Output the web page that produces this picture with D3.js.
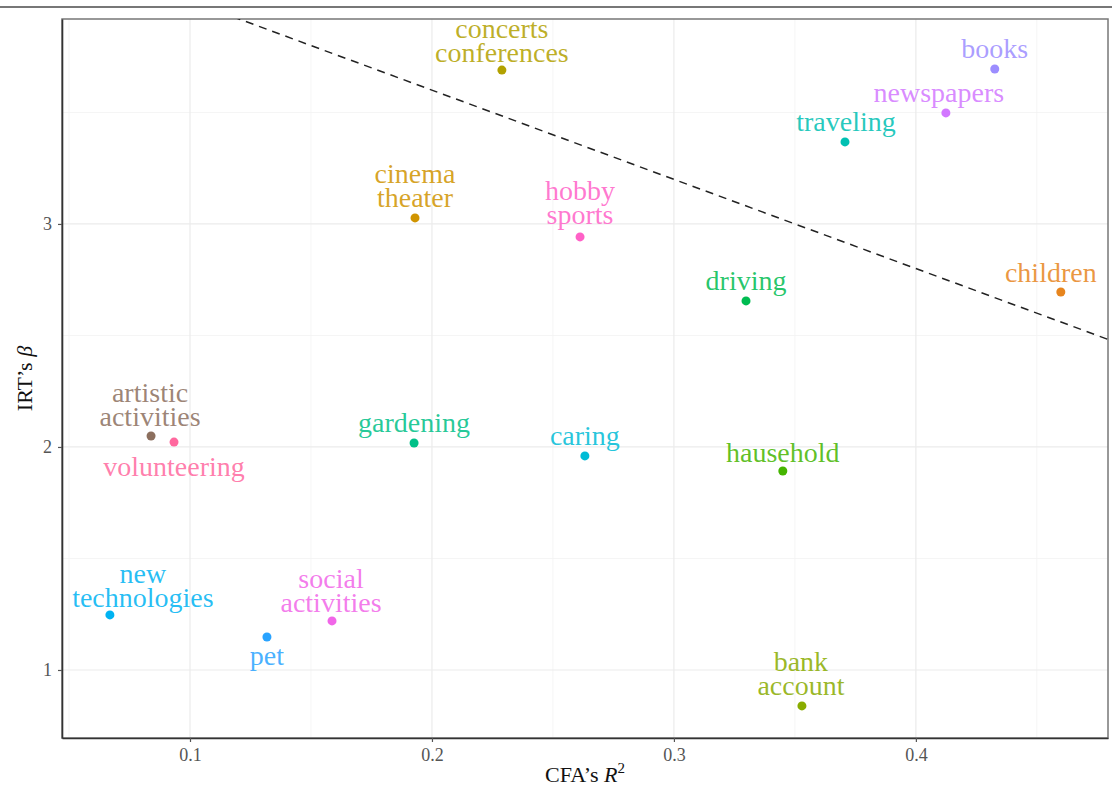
<!DOCTYPE html>
<html>
<head>
<meta charset="utf-8">
<script src="https://cdn.jsdelivr.net/npm/d3@7"></script>
<style>
  html, body { margin: 0; padding: 0; background: #fff; }
  svg { display: block; }
</style>
</head>
<body>
<svg id="chart" width="1112" height="794"></svg>
<script>
// ---- data ----
const activities = ["books", "newspapers", "traveling", "concerts\nconferences", "cinema\ntheater",
  "hobby\nsports", "driving", "children", "artistic\nactivities", "volunteering", "gardening",
  "caring", "hausehold", "new\ntechnologies", "pet", "social\nactivities", "bank\naccount"];
const cfaR2 = [0.4326, 0.4124, 0.3707, 0.2289, 0.1930, 0.2612, 0.3298, 0.4599, 0.0839, 0.0934,
  0.1926, 0.2632, 0.3450, 0.0669, 0.1318, 0.1587, 0.3529];
const irtBeta = [3.695, 3.498, 3.368, 3.690, 3.027, 2.942, 2.655, 2.695, 2.049, 2.022,
  2.018, 1.960, 1.892, 1.247, 1.148, 1.220, 0.839];
const colors = ["#9C8DFF", "#D277FF", "#00C0B2", "#B2A100", "#D09400", "#FF61C7", "#00BC51",
  "#E7851E", "#8C6F5E", "#FF689E", "#00C087", "#00BCD6", "#45B500", "#00B3F2", "#29A3FF",
  "#F166E8", "#89AC00"];
// label placement (pixel nudges of last-line baseline from the point)
const labelDx = [0, -7, 1, 0, 0, 0, 0, -10, -1, 0, 0, 0, 0, 33, 0, -1, -1];
const labelDy = [-11, -11, -11, -8, -11, -13, -11, -10, -10, 34, -11, -11, -9, -8, 28, -9, -11];
const xTicks = [0.1, 0.2, 0.3, 0.4];
const xMinor = [0.05, 0.15, 0.25, 0.35, 0.45];
const yTicks = [1, 2, 3];
const yMinor = [1.5, 2.5, 3.5];
const refIntercept = 4.4, refSlope = -4;

// ---- layout ----
const svg = d3.select("#chart");
const L = 62, R = 1108, T = 19, B = 738;
const x = d3.scaleLinear().domain([0.0471, 0.4794]).range([L, R]);
const y = d3.scaleLinear().domain([0.695, 3.919]).range([B, T]);
const serif = "'Liberation Serif', 'Times New Roman', serif";

// top separator line
svg.append("line").attr("x1", 0).attr("x2", 1112).attr("y1", 7).attr("y2", 7)
  .attr("stroke", "#4a4a4a").attr("stroke-width", 1.5);

// grid
const g = svg.append("g");
g.selectAll(".xmin").data(xMinor).join("line")
  .attr("x1", d => x(d)).attr("x2", d => x(d)).attr("y1", T).attr("y2", B)
  .attr("stroke", "#f2f2f2").attr("stroke-width", 0.8);
g.selectAll(".ymin").data(yMinor).join("line")
  .attr("x1", L).attr("x2", R).attr("y1", d => y(d)).attr("y2", d => y(d))
  .attr("stroke", "#f2f2f2").attr("stroke-width", 0.8);
g.selectAll(".xmaj").data(xTicks).join("line")
  .attr("x1", d => x(d)).attr("x2", d => x(d)).attr("y1", T).attr("y2", B)
  .attr("stroke", "#ebebeb").attr("stroke-width", 1.2);
g.selectAll(".ymaj").data(yTicks).join("line")
  .attr("x1", L).attr("x2", R).attr("y1", d => y(d)).attr("y2", d => y(d))
  .attr("stroke", "#ebebeb").attr("stroke-width", 1.2);

// panel border
svg.append("rect").attr("x", L).attr("y", T).attr("width", R - L).attr("height", B - T)
  .attr("fill", "none").attr("stroke", "#777").attr("stroke-width", 1.5);

// reference dashed line
svg.append("clipPath").attr("id", "clip").append("rect")
  .attr("x", L).attr("y", T).attr("width", R - L).attr("height", B - T);
const xs = x.domain();
svg.append("line")
  .attr("clip-path", "url(#clip)")
  .attr("x1", x(xs[0])).attr("y1", y(refIntercept + refSlope * xs[0]))
  .attr("x2", x(xs[1])).attr("y2", y(refIntercept + refSlope * xs[1]))
  .attr("stroke", "#222").attr("stroke-width", 1.5).attr("stroke-dasharray", "8,6");

// axes
const xAxis = svg.append("g").attr("transform", `translate(0,${B})`)
  .call(d3.axisBottom(x).tickValues(xTicks).tickFormat(d3.format(".1f"))
    .tickSize(4).tickSizeOuter(0).tickPadding(6));
const yAxis = svg.append("g").attr("transform", `translate(${L},0)`)
  .call(d3.axisLeft(y).tickValues(yTicks).tickFormat(d3.format("d"))
    .tickSize(4).tickSizeOuter(0).tickPadding(6));
[xAxis, yAxis].forEach(a => {
  a.select(".domain").attr("stroke", "#333").attr("stroke-width", 1.6);
  a.selectAll(".tick line").attr("stroke", "#555").attr("stroke-width", 1.2);
  a.selectAll(".tick text").attr("fill", "#555").attr("font-family", serif).attr("font-size", 18);
});

// axis titles
const xt = svg.append("text").attr("x", (L + R) / 2).attr("y", 782).attr("text-anchor", "middle")
  .attr("font-family", serif).attr("font-size", 22).attr("fill", "#111");
xt.append("tspan").text("CFA’s ");
xt.append("tspan").attr("font-style", "italic").text("R");
xt.append("tspan").attr("font-size", 15).attr("dy", -9).text("2");

const yt = svg.append("text").attr("transform", `translate(32,${(T + B) / 2}) rotate(-90)`)
  .attr("text-anchor", "middle").attr("font-family", serif).attr("font-size", 22).attr("fill", "#111");
yt.append("tspan").text("IRT’s ");
yt.append("tspan").attr("font-style", "italic").text("β");

// points
const idx = d3.range(activities.length);
svg.append("g").selectAll("circle").data(idx).join("circle")
  .attr("cx", i => x(cfaR2[i])).attr("cy", i => y(irtBeta[i])).attr("r", 4.5)
  .attr("fill", i => colors[i]);

// labels
const lineH = 24;
const lab = svg.append("g").selectAll("text").data(idx).join("text")
  .attr("text-anchor", "middle").attr("font-family", serif).attr("font-size", 28)
  .attr("fill", i => colors[i]).attr("fill-opacity", 0.85);
lab.each(function(i) {
  const lines = activities[i].split("\n");
  const below = labelDy[i] > 0;
  const cx = x(cfaR2[i]) + labelDx[i];
  const firstBase = below ? y(irtBeta[i]) + labelDy[i]
                          : y(irtBeta[i]) + labelDy[i] - (lines.length - 1) * lineH;
  const t = d3.select(this);
  lines.forEach((s, k) => {
    t.append("tspan").attr("x", cx).attr("y", firstBase + k * lineH).text(s);
  });
});
</script>
</body>
</html>
